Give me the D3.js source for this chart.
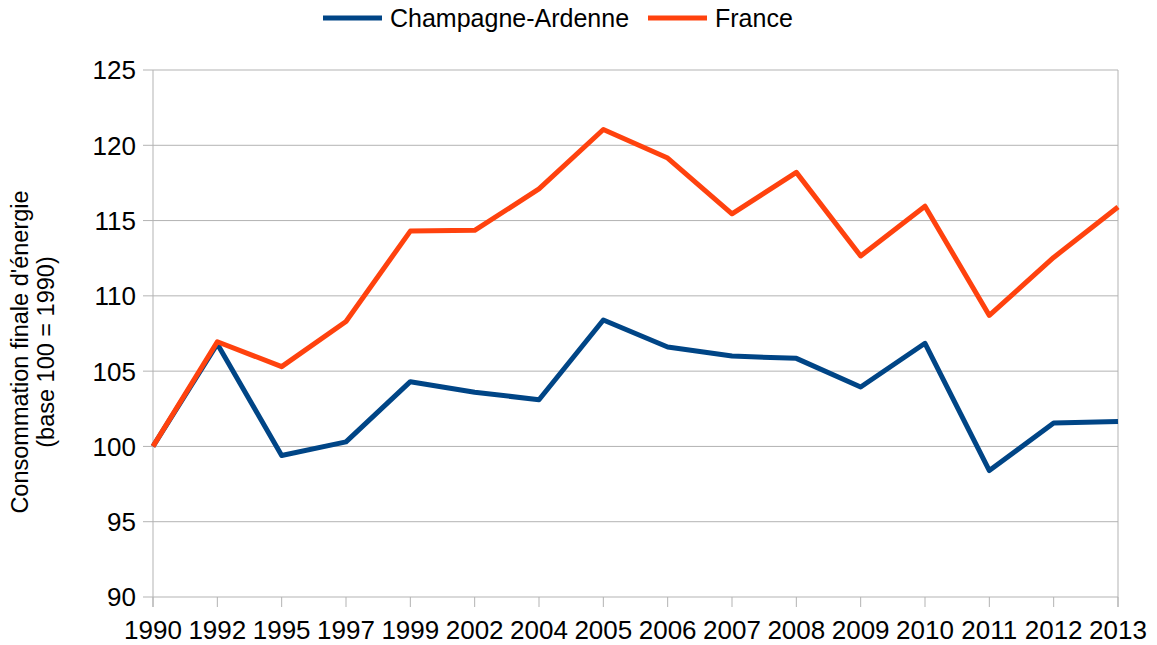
<!DOCTYPE html>
<html>
<head>
<meta charset="utf-8">
<script src="https://cdn.jsdelivr.net/npm/d3@7"></script>
<style>
  body { margin: 0; background: #fff; }
  text { font-family: "Liberation Sans", Arial, sans-serif; fill: #000; }
</style>
</head>
<body>
<script>
// years on the x axis (not evenly spaced, treated as categories)
var years = ["1990", "1992", "1995", "1997", "1999", "2002", "2004", "2005",
             "2006", "2007", "2008", "2009", "2010", "2011", "2012", "2013"];

// values
var champagne = [100, 106.8, 99.4, 100.3, 104.3, 103.6, 103.1, 108.4,
                 106.6, 106.0, 105.85, 103.95, 106.85, 98.4, 101.55, 101.65];
var france = [100, 106.95, 105.3, 108.3, 114.3, 114.35, 117.1, 121.05,
              119.15, 115.45, 118.2, 112.65, 115.95, 108.7, 112.55, 115.9];

var yTicks = [90, 95, 100, 105, 110, 115, 120, 125];

var seriesNames = ["Champagne-Ardenne", "France"];
var colors = ["#004586", "#ff420e"];

var width = 1157, height = 645;
var margin = {top: 70, right: 39, bottom: 48, left: 153};

var svg = d3.select("body").append("svg")
    .attr("width", width)
    .attr("height", height);

var x = d3.scalePoint()
    .domain(years)
    .range([margin.left, width - margin.right]);

var y = d3.scaleLinear()
    .domain([90, 125])
    .range([height - margin.bottom, margin.top]);

// horizontal grid
svg.append("g")
  .selectAll("line")
  .data(yTicks)
  .enter().append("line")
    .attr("x1", margin.left - 10)
    .attr("x2", width - margin.right)
    .attr("y1", function(d) { return y(d); })
    .attr("y2", function(d) { return y(d); })
    .attr("stroke", "#b3b3b3")
    .attr("stroke-width", 1);

// y axis line and right border
svg.append("line")
    .attr("x1", margin.left).attr("x2", margin.left)
    .attr("y1", margin.top).attr("y2", height - margin.bottom + 10)
    .attr("stroke", "#b3b3b3");
svg.append("line")
    .attr("x1", width - margin.right).attr("x2", width - margin.right)
    .attr("y1", margin.top).attr("y2", height - margin.bottom + 10)
    .attr("stroke", "#b3b3b3");

// x ticks
svg.append("g")
  .selectAll("line")
  .data(years)
  .enter().append("line")
    .attr("x1", function(d) { return x(d); })
    .attr("x2", function(d) { return x(d); })
    .attr("y1", height - margin.bottom)
    .attr("y2", height - margin.bottom + 10)
    .attr("stroke", "#b3b3b3");

// y tick labels
svg.append("g")
  .selectAll("text")
  .data(yTicks)
  .enter().append("text")
    .attr("x", margin.left - 17)
    .attr("y", function(d) { return y(d); })
    .attr("dy", "0.36em")
    .attr("text-anchor", "end")
    .style("font-size", "26px")
    .text(function(d) { return d; });

// x tick labels
svg.append("g")
  .selectAll("text")
  .data(years)
  .enter().append("text")
    .attr("x", function(d) { return x(d); })
    .attr("y", height - margin.bottom + 42)
    .attr("text-anchor", "middle")
    .style("font-size", "26px")
    .text(function(d) { return d; });

// y axis title
var title = svg.append("text")
    .attr("transform", "translate(28,352) rotate(-90)")
    .attr("text-anchor", "middle")
    .style("font-size", "23.5px");
title.append("tspan").attr("x", 0).attr("dy", 0).text("Consommation finale d'énergie");
title.append("tspan").attr("x", 0).attr("dy", 26).text("(base 100 = 1990)");

// lines
var line = d3.line()
    .x(function(d, i) { return x(years[i]); })
    .y(function(d) { return y(d); });

[champagne, france].forEach(function(s, k) {
  svg.append("path")
      .datum(s)
      .attr("d", line)
      .attr("fill", "none")
      .attr("stroke", colors[k])
      .attr("stroke-width", 5)
      .attr("stroke-linejoin", "round");
});

// legend
var legendX = [323, 648];
seriesNames.forEach(function(name, k) {
  var g = svg.append("g").attr("transform", "translate(" + legendX[k] + ",18)");
  g.append("line")
      .attr("x1", 0).attr("x2", 59)
      .attr("y1", 0).attr("y2", 0)
      .attr("stroke", colors[k])
      .attr("stroke-width", 5);
  g.append("text")
      .attr("x", 67)
      .attr("y", 0)
      .attr("dy", "0.36em")
      .style("font-size", "25px")
      .text(name);
});
</script>
</body>
</html>
